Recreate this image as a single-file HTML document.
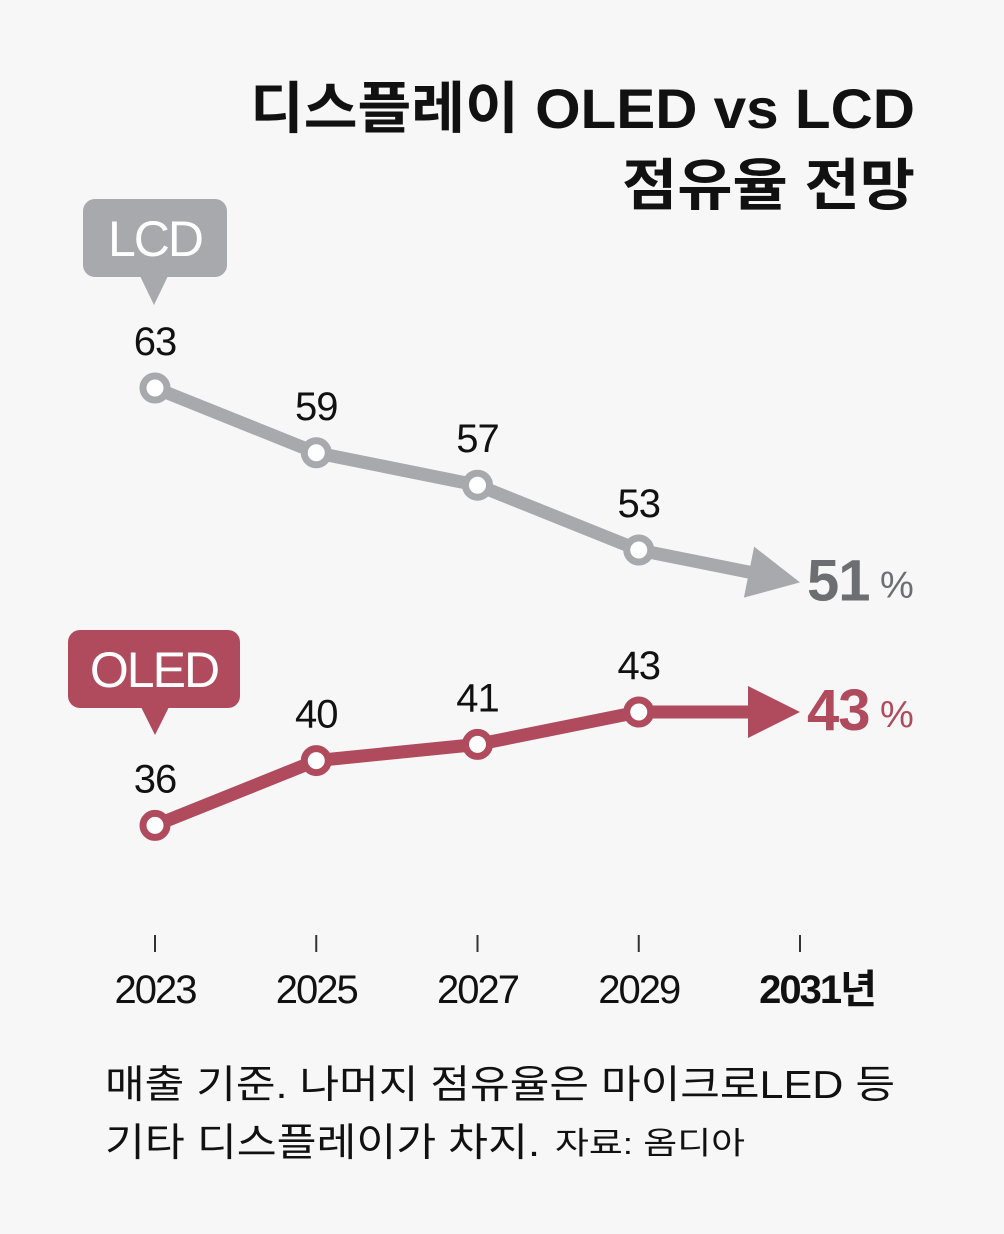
<!DOCTYPE html>
<html><head><meta charset="utf-8"><style>
html,body{margin:0;padding:0;background:#f7f7f7;}
svg{display:block;font-family:"Liberation Sans","Noto Sans CJK KR",sans-serif;}
</style></head><body>
<svg id="chart" width="1004" height="1234" viewBox="0 0 1004 1234">
<rect width="1004" height="1234" fill="#f7f7f7"/>
<text x="250" y="128" textLength="665" lengthAdjust="spacingAndGlyphs" font-size="56" font-weight="bold" fill="#111">디스플레이 OLED vs LCD</text>
<text x="622" y="205" textLength="293" lengthAdjust="spacingAndGlyphs" font-size="56" font-weight="bold" fill="#111">점유율 전망</text>
<g id="marks"></g>
<text x="105" y="1098" textLength="790" lengthAdjust="spacingAndGlyphs" font-size="39" fill="#111">매출 기준. 나머지 점유율은 마이크로LED 등</text>
<text x="105" y="1156" textLength="435" lengthAdjust="spacingAndGlyphs" font-size="39" fill="#111">기타 디스플레이가 차지.</text>
<text x="555" y="1154" textLength="190" lengthAdjust="spacingAndGlyphs" font-size="31" fill="#111">자료: 옴디아</text>
</svg>
<script>
const years = ["2023","2025","2027","2029","2031"];
const lcdValues = [63,59,57,53];
const oledValues = [36,40,41,43];
const lcdFinal = 51;
const oledFinal = 43;
const NS="http://www.w3.org/2000/svg";
const g=document.getElementById('marks');
function x(i){return 155+i*161.25;}
function y(v){return 388+(63-v)*16.2;}
function el(t,a,txt){const e=document.createElementNS(NS,t);for(const k in a)e.setAttribute(k,a[k]);if(txt!==undefined)e.textContent=txt;g.appendChild(e);return e;}
years.forEach((yr,i)=>{
  const t=el('line',{x1:x(i),x2:x(i),y1:935,y2:952,stroke:'#333','stroke-width':2});
  
  
  const lb=el('text',{x:x(i),y:1003,'text-anchor':'middle','font-size':40,fill:'#111','letter-spacing':'-2','font-weight':i==4?'bold':'normal'},yr+(i==4?'년':''));
  if(i==4){lb.setAttribute('x',x(i)+17);}
  
  
});
function series(vals,fin,color,name,numColor){
  const n=vals.length;
  const pts=vals.map((v,i)=>x(i)+','+y(v)).join(' ');
  const ln=el('polyline',{points:pts,fill:'none',stroke:color,'stroke-width':13,'stroke-linejoin':'round'});
  
  
  const x0=x(n-1),y0=y(vals[n-1]),x1=x(n),y1=y(fin);
  const dx=x1-x0,dy=y1-y0,L=Math.hypot(dx,dy),ux=dx/L,uy=dy/L;
  const bx=x1-ux*52,by=y1-uy*52;
  const sh=el('line',{x1:x0,y1:y0,x2:bx+ux*2,y2:by+uy*2,stroke:color,'stroke-width':13});
  
  
  const ah=el('polygon',{points:`${x1},${y1} ${bx-uy*26},${by+ux*26} ${bx+uy*26},${by-ux*26}`,fill:color});
  
  
  vals.forEach((v,i)=>{
    const c=el('circle',{cx:x(i),cy:y(v),r:12,fill:'#fff',stroke:color,'stroke-width':7});
    
    
    const t=el('text',{x:x(i),y:y(v)-33,'text-anchor':'middle','font-size':40,fill:'#111','letter-spacing':'-1'},String(v));
    
    
  });
  const f=el('text',{x:807,y:y1+18,'font-size':58,'font-weight':'bold',fill:numColor,'letter-spacing':'-1'},String(fin));
  
  
  const p=el('text',{x:880,y:y1+15,'font-size':38,fill:numColor},'%');
  
  
}
series(lcdValues,lcdFinal,'#a8a9ac','lcd','#6d6e71');
series(oledValues,oledFinal,'#b04b5e','oled','#b04b5e');
function tag(bx,by,w,h,tip,color,label,name){
  const r=el('rect',{x:bx,y:by,width:w,height:h,rx:12,fill:color});
  
  
  const p=el('polygon',{points:`${tip[0]-14},${by+h-1} ${tip[0]+14},${by+h-1} ${tip[0]},${tip[1]}`,fill:color});
  
  
  const t=el('text',{x:bx+w/2,y:by+h/2+18,'text-anchor':'middle','font-size':50,fill:'#fff','letter-spacing':'-2'},label);
  
  
}
tag(83,199,144,78,[154,305],'#a8a9ac','LCD','lcd');
tag(68,630,172,78,[155,735],'#b04b5e','OLED','oled');
</script>
</body></html>
